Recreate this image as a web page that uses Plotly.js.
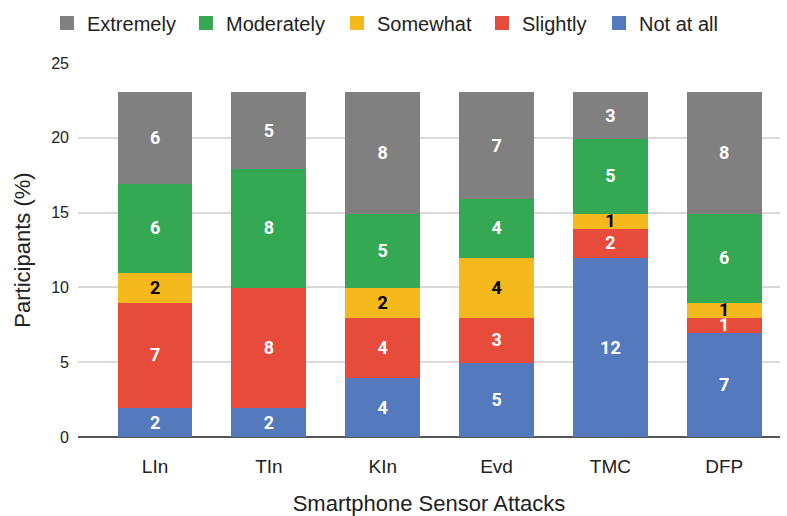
<!DOCTYPE html>
<html>
<head>
<meta charset="utf-8">
<script src="https://cdn.plot.ly/plotly-3.0.1.min.js"></script>
<style>html,body{margin:0;padding:0;background:#fff}#chart{width:787px;height:516px}</style>
</head>
<body>
<div id="chart"></div>
<script>
const categories = ["LIn", "TIn", "KIn", "Evd", "TMC", "DFP"];
const notAtAll   = [2, 2, 4, 5, 12, 7];
const slightly   = [7, 8, 4, 3, 2, 1];
const somewhat   = [2, 0, 2, 4, 1, 1];
const moderately = [6, 8, 5, 4, 5, 6];
const extremely  = [6, 5, 8, 7, 3, 8];
const yTicks = [0, 5, 10, 15, 20, 25];

const seriesNames  = ["Not at all", "Slightly", "Somewhat", "Moderately", "Extremely"];
const seriesValues = [notAtAll, slightly, somewhat, moderately, extremely];
const seriesColors = ["#5479bc", "#e74b3c", "#f5b91e", "#35a853", "#808080"];
const labelColors  = ["#ffffff", "#ffffff", "#000000", "#ffffff", "#ffffff"];
const legendIds    = ["legend5", "legend4", "legend3", "legend2", "legend"];
// paper x of each legend box, in order legend..legend5 (Extremely, Moderately, Somewhat, Slightly, Not at all)
const legendX      = [-0.0442, 0.1538, 0.3689, 0.5755, 0.7422];

const traces = seriesNames.map((name, i) => ({
  type: "bar",
  name: name,
  legend: legendIds[i],
  x: categories,
  y: seriesValues[i],
  text: seriesValues[i].map(v => v ? String(v) : ""),
  textposition: "inside",
  insidetextanchor: "middle",
  textangle: 0,
  textfont: {family: "Roboto, Arial, sans-serif", size: 18, color: labelColors[i], weight: "bold"},
  marker: {color: seriesColors[i], line: {width: 2, color: seriesColors[i]}},
  width: 0.64,
  hoverinfo: "skip"
}));

const layout = {
  width: 787, height: 516,
  margin: {l: 78, r: 7, t: 63, b: 79, autoexpand: false},
  barmode: "stack",
  paper_bgcolor: "#ffffff",
  plot_bgcolor: "#ffffff",
  font: {family: "'Liberation Sans', Arial, sans-serif", color: "#222222"},
  uniformtext: {mode: "show", minsize: 18},
  showlegend: true,
  xaxis: {
    type: "category",
    range: [-0.677, 5.49],
    showgrid: false, zeroline: false,
    showline: false,
    ticks: "",
    tickfont: {size: 19, color: "#222222"},
    ticklabelstandoff: 16,
    title: {text: "Smartphone Sensor Attacks", font: {size: 22, color: "#222222"}, standoff: 24}
  },
  yaxis: {
    range: [0, 25],
    tickvals: yTicks,
    ticktext: yTicks.map(String),
    showgrid: true, gridcolor: "#d9d9d9", gridwidth: 2,
    zeroline: true, zerolinecolor: "#555555", zerolinewidth: 2.5,
    showline: false,
    ticks: "",
    tickfont: {size: 16, color: "#222222"},
    ticklabelstandoff: 8,
    title: {text: "Participants (%)", font: {size: 22, color: "#222222"}, standoff: 14}
  }
};

["legend", "legend2", "legend3", "legend4", "legend5"].forEach((id, k) => {
  layout[id] = {
    orientation: "h",
    x: legendX[k], xanchor: "left", y: 1.107, yanchor: "middle",
    bgcolor: "rgba(0,0,0,0)",
    font: {size: 20, color: "#222222"},
    itemwidth: 30
  };
});

Plotly.newPlot("chart", traces, layout, {displayModeBar: false, staticPlot: true});
</script>
</body>
</html>
